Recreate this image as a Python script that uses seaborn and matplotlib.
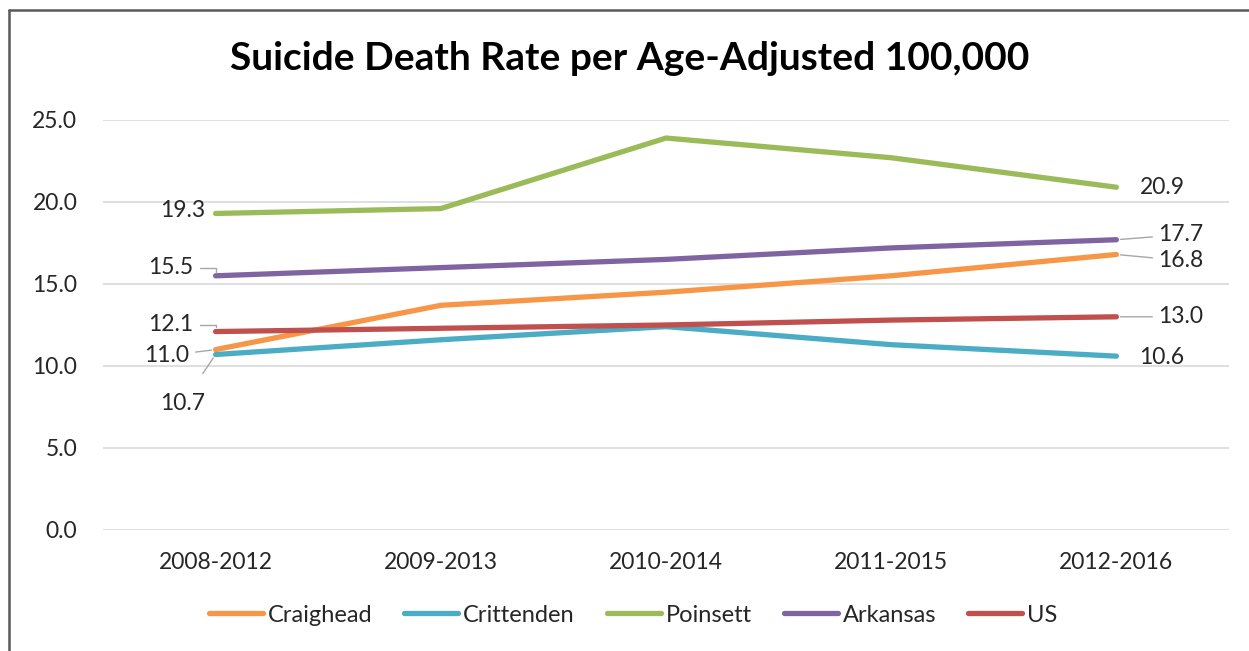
import matplotlib
matplotlib.use("Agg")
import matplotlib.pyplot as plt
import seaborn as sns
import pandas as pd
from matplotlib.lines import Line2D

periods = ["2008-2012", "2009-2013", "2010-2014", "2011-2015", "2012-2016"]
craighead = [11.0, 13.7, 14.5, 15.5, 16.8]
crittenden = [10.7, 11.6, 12.4, 11.3, 10.6]
poinsett = [19.3, 19.6, 23.9, 22.7, 20.9]
arkansas = [15.5, 16.0, 16.5, 17.2, 17.7]
us = [12.1, 12.3, 12.5, 12.8, 13.0]

series_names = ["Craighead", "Crittenden", "Poinsett", "Arkansas", "US"]
series_values = [craighead, crittenden, poinsett, arkansas, us]
colors = ["#F79646", "#4BACC6", "#9BBB59", "#8064A2", "#C0504D"]
yticks = [0, 5, 10, 15, 20, 25]

rows = []
for name, vals in zip(series_names, series_values):
    for i, (p, v) in enumerate(zip(periods, vals)):
        rows.append({"period": p, "x": i, "rate": v, "series": name})
df = pd.DataFrame(rows)

sns.set_theme(style="white")
plt.rcParams["font.family"] = ["Lato", "DejaVu Sans"]

FS = 16.5
fig = plt.figure(figsize=(12.49, 6.51), dpi=100)
ax = fig.add_axes([103 / 1249, 1 - 530 / 651, (1229 - 103) / 1249, 410 / 651])

sns.lineplot(data=df, x="x", y="rate", hue="series", hue_order=series_names,
             palette=colors, linewidth=3.8, ax=ax, legend=False, sort=False,
             solid_capstyle="round")

ax.set_xlim(-0.5, 4.5)
ax.set_ylim(0, 25)
ax.set_yticks(yticks)
ax.set_yticklabels([f"{t:.1f}" for t in yticks], fontsize=FS, color="#262626")
ax.set_xticks(range(len(periods)))
ax.set_xticklabels(periods, fontsize=FS, color="#262626")
ax.tick_params(axis="both", length=0)
ax.tick_params(axis="y", pad=18.5)
ax.tick_params(axis="x", pad=16)
ax.set_xlabel("")
ax.set_ylabel("")
ax.grid(axis="y", color="#d9d9d9", linewidth=1.2)
ax.set_axisbelow(True)
for s in ax.spines.values():
    s.set_visible(False)

fig.text(630 / 1249, 1 - 58 / 651, "Suicide Death Rate per Age-Adjusted 100,000",
         ha="center", va="center", fontsize=28, fontweight="bold", color="black")

leader = dict(arrowstyle="-", color="#a6a6a6", lw=1.0, shrinkA=2, shrinkB=3)
lab = dict(fontsize=FS, color="#262626", textcoords="offset pixels", va="center")

# left-side labels (first point)
ax.annotate(f"{poinsett[0]:.1f}", (0, poinsett[0]), xytext=(-10, 3), ha="right", **lab)
ax.annotate(f"{arkansas[0]:.1f}", (0, arkansas[0]), xytext=(-22, 8), ha="right",
            arrowprops=dict(connectionstyle="angle,angleA=0,angleB=90,rad=0", **leader), **lab)
ax.annotate(f"{us[0]:.1f}", (0, us[0]), xytext=(-22, 7), ha="right",
            arrowprops=dict(connectionstyle="angle,angleA=0,angleB=90,rad=0", **leader), **lab)
ax.annotate(f"{craighead[0]:.1f}", (0, craighead[0]), xytext=(-26, -6), ha="right",
            arrowprops=leader, **lab)
ax.annotate(f"{crittenden[0]:.1f}", (0, crittenden[0]), xytext=(-33, -49), ha="center",
            arrowprops=dict(leader, shrinkA=14), **lab)

# right-side labels (last point)
ax.annotate(f"{poinsett[-1]:.1f}", (4, poinsett[-1]), xytext=(23, 0), ha="left", **lab)
ax.annotate(f"{arkansas[-1]:.1f}", (4, arkansas[-1]), xytext=(42, 5), ha="left",
            arrowprops=leader, **lab)
ax.annotate(f"{craighead[-1]:.1f}", (4, craighead[-1]), xytext=(42, -6), ha="left",
            arrowprops=leader, **lab)
ax.annotate(f"{us[-1]:.1f}", (4, us[-1]), xytext=(42, 0), ha="left",
            arrowprops=leader, **lab)
ax.annotate(f"{crittenden[-1]:.1f}", (4, crittenden[-1]), xytext=(23, -1), ha="left", **lab)

handles = [Line2D([0], [0], color=c, lw=3.8, solid_capstyle="round") for c in colors]
fig.legend(handles, series_names, loc="center", bbox_to_anchor=(633 / 1249, 1 - 615 / 651),
           ncol=5, frameon=False, fontsize=17, handlelength=2.3, handletextpad=0.2,
           columnspacing=1.35, labelcolor="#262626")

# chart border (left and top edges)
fig.add_artist(Line2D([9 / 1249, 9 / 1249], [0, 1 - 10 / 651], color="#595959", lw=1.8,
                      transform=fig.transFigure))
fig.add_artist(Line2D([9 / 1249, 1], [1 - 10 / 651, 1 - 10 / 651], color="#595959", lw=1.8,
                      transform=fig.transFigure))

fig.savefig("out.png", dpi=100, facecolor="white")
